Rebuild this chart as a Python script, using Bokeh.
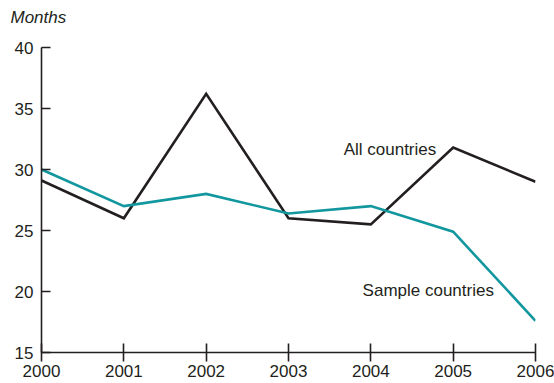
from bokeh.plotting import figure
from bokeh.models import Label, Range1d, FixedTicker, Title
from bokeh.embed import file_html
from bokeh.resources import INLINE

years = [2000, 2001, 2002, 2003, 2004, 2005, 2006]
all_countries = [29.1, 26.0, 36.2, 26.0, 25.5, 31.8, 29.0]
sample_countries = [30.0, 27.0, 28.0, 26.4, 27.0, 24.9, 17.6]
y_ticks = [15, 20, 25, 30, 35, 40]

FONT = "Liberation Sans"
BLACK = "#231f20"
TEAL = "#13979f"

p = figure(width=554, height=383, output_backend="svg", toolbar_location=None,
           x_range=Range1d(2000, 2006), y_range=Range1d(15, 40),
           min_border_left=41, min_border_right=19, min_border_top=47, min_border_bottom=31)
p.outline_line_color = None
p.background_fill_color = "white"
p.border_fill_color = "white"
p.xgrid.visible = False
p.ygrid.visible = False

# spacer between the frame and the unit title
p.add_layout(Title(text=" ", text_font_size="1px", standoff=16), "above")

p.title.text = "Months"
p.title.align = "left"
p.title.offset = -31
p.title.standoff = 4
p.title.text_font = FONT
p.title.text_font_size = "17px"
p.title.text_font_style = "italic"
p.title.text_color = BLACK

p.line(years, all_countries, line_color=BLACK, line_width=2.6, line_join="miter")
p.line(years, sample_countries, line_color=TEAL, line_width=2.6, line_join="miter")

for ax in (p.xaxis[0], p.yaxis[0]):
    ax.axis_line_color = BLACK
    ax.axis_line_width = 1.6
    ax.major_tick_line_color = BLACK
    ax.major_tick_line_width = 1.6
    ax.minor_tick_line_color = None
    ax.major_label_text_font = FONT
    ax.major_label_text_font_size = "17px"
    ax.major_label_text_color = BLACK

p.xaxis.ticker = FixedTicker(ticks=years)
p.xaxis.major_tick_in = 9
p.xaxis.major_tick_out = 9
p.xaxis.major_label_standoff = 3

p.yaxis.ticker = FixedTicker(ticks=y_ticks)
p.yaxis.major_tick_in = 9
p.yaxis.major_tick_out = 0
p.yaxis.major_label_standoff = 8

p.add_layout(Label(x=2003.67, y=31.64, text="All countries",
                   text_font=FONT, text_font_size="17px", text_color=BLACK,
                   text_baseline="middle"))
p.add_layout(Label(x=2003.9, y=20.08, text="Sample countries",
                   text_font=FONT, text_font_size="17px", text_color=BLACK,
                   text_baseline="middle"))

open("out.html", "w").write(file_html(p, INLINE))
